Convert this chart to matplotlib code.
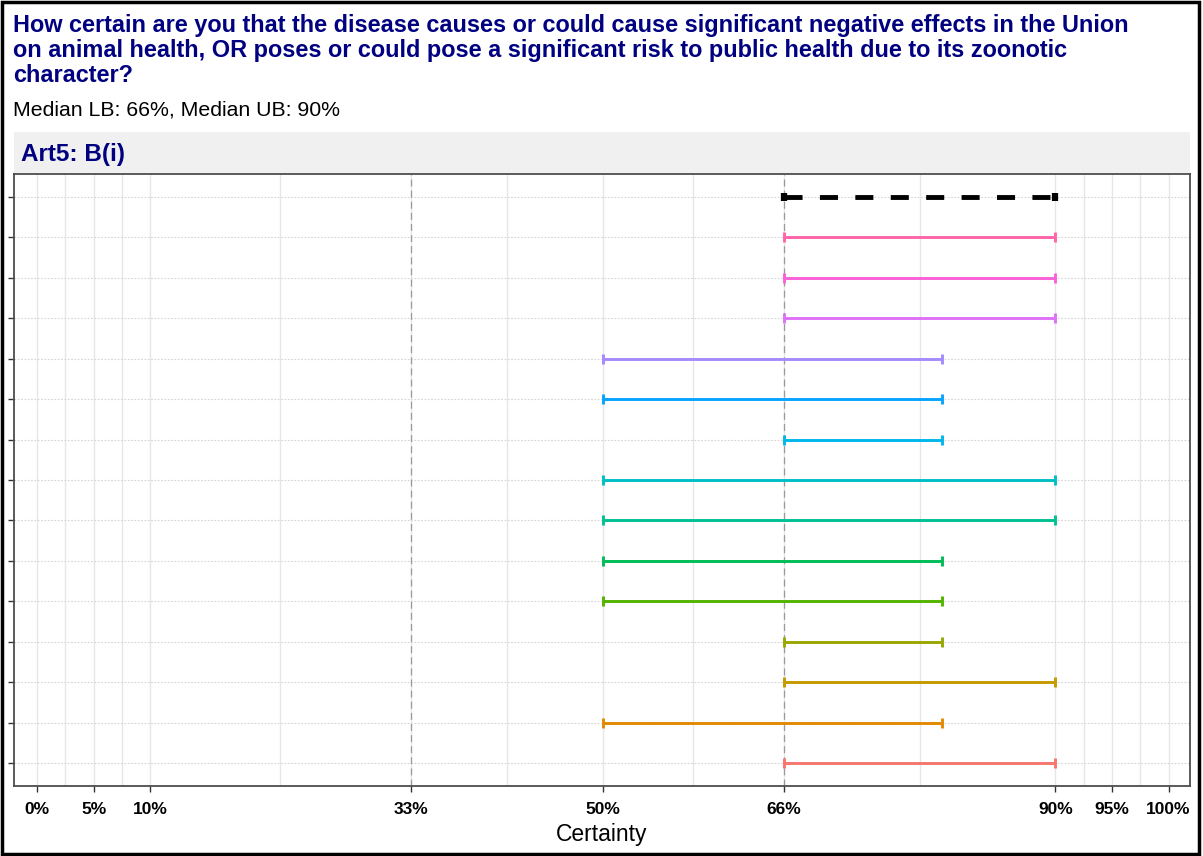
import matplotlib.pyplot as plt
from matplotlib.patches import Rectangle

plt.rcParams["font.family"] = ["Liberation Sans", "DejaVu Sans"]
plt.rcParams["lines.scale_dashes"] = False

# expert intervals, bottom row first
lower = [66, 50, 66, 66, 50, 50, 50, 50, 66, 50, 50, 66, 66, 66]
upper = [90, 80, 90, 80, 80, 80, 90, 90, 80, 80, 80, 90, 90, 90]
colors = ["#F8766D", "#E38900", "#C49A00", "#99A800", "#53B400", "#00BC56",
          "#00C094", "#00BFC4", "#00B6EB", "#06A4FF", "#A58AFF", "#DF70F8",
          "#FB61D7", "#FF66A8"]
median_lb, median_ub = 66, 90

breaks = [0, 5, 10, 33, 50, 66, 90, 95, 100]
break_labels = ["0%", "5%", "10%", "33%", "50%", "66%", "90%", "95%", "100%"]
ref_lines = [33, 66]

title = ("How certain are you that the disease causes or could cause significant negative effects in the Union\n"
         "on animal health, OR poses or could pose a significant risk to public health due to its zoonotic\n"
         "character?")
subtitle = f"Median LB: {median_lb}%, Median UB: {median_ub}%"
strip_label = "Art5: B(i)"

W, H = 1203, 856
fig = plt.figure(figsize=(W / 100, H / 100), dpi=100)

# panel and strip in pixel terms
px_l, px_r, px_t, px_b = 14, 1190, 174, 786
ax = fig.add_axes([px_l / W, 1 - px_b / H, (px_r - px_l) / W, (px_b - px_t) / H])

n = len(lower)
rows = list(range(1, n + 2))

# grid
minor = [(a + b) / 2 for a, b in zip(breaks[:-1], breaks[1:])]
for x in breaks + minor:
    ax.axvline(x, color="#E6E6E6", lw=1.0, zorder=0)
for y in rows:
    ax.axhline(y, color="#D4D4D4", lw=0.8, ls=(0, (1.2, 1.2)), zorder=0)
for x in ref_lines:
    ax.axvline(x, color="#9A9A9A", lw=0.9, ls=(0, (5, 3)), zorder=1)

for i in range(n):
    mid = (lower[i] + upper[i]) / 2
    ax.errorbar(mid, i + 1, xerr=[[mid - lower[i]], [upper[i] - mid]], fmt="none",
                ecolor=colors[i], elinewidth=2.1, capsize=3.8, capthick=2.1, zorder=3)

mid = (median_lb + median_ub) / 2
eb = ax.errorbar(mid, n + 1, xerr=[[mid - median_lb], [median_ub - mid]], fmt="none",
                 ecolor="black", elinewidth=3.5, capsize=3.2, capthick=4.5, zorder=4)
eb[2][0].set_linestyle((0, (13, 12.5)))

ax.set_xlim(-2.05, 101.9)
ax.set_ylim(0.43, n + 1.57)
ax.set_xticks(breaks)
ax.set_xticklabels(break_labels, fontweight="bold", fontsize=12.5)
ax.set_yticks(rows)
ax.set_yticklabels([])
ax.tick_params(axis="both", length=4, width=1.0, color="#333333", pad=7.5)
ax.set_xlabel("Certainty", fontsize=16.5, labelpad=4)
for s in ax.spines.values():
    s.set_color("#4D4D4D")
    s.set_linewidth(1.3)

# facet strip
fig.add_artist(Rectangle((px_l / W, 1 - 173 / H), (px_r - px_l) / W, 41 / H,
                         transform=fig.transFigure, facecolor="#F0F0F0", edgecolor="none"))
fig.text(21 / W, 1 - 154 / H, strip_label, color="#000080", fontsize=17.5,
         fontweight="bold", va="center", ha="left")

fig.text(13 / W, 1 - 14 / H, title, color="#000080", fontsize=16.9, fontweight="bold",
         va="top", ha="left", linespacing=1.1)
fig.text(13 / W, 1 - 110 / H, subtitle, color="black", fontsize=15.3, va="center", ha="left")

# outer frame
fig.add_artist(Rectangle((0.0015, 0.002), 0.995, 0.996, transform=fig.transFigure,
                         facecolor="none", edgecolor="black", lw=2.5))

fig.savefig("out.png", dpi=100)
